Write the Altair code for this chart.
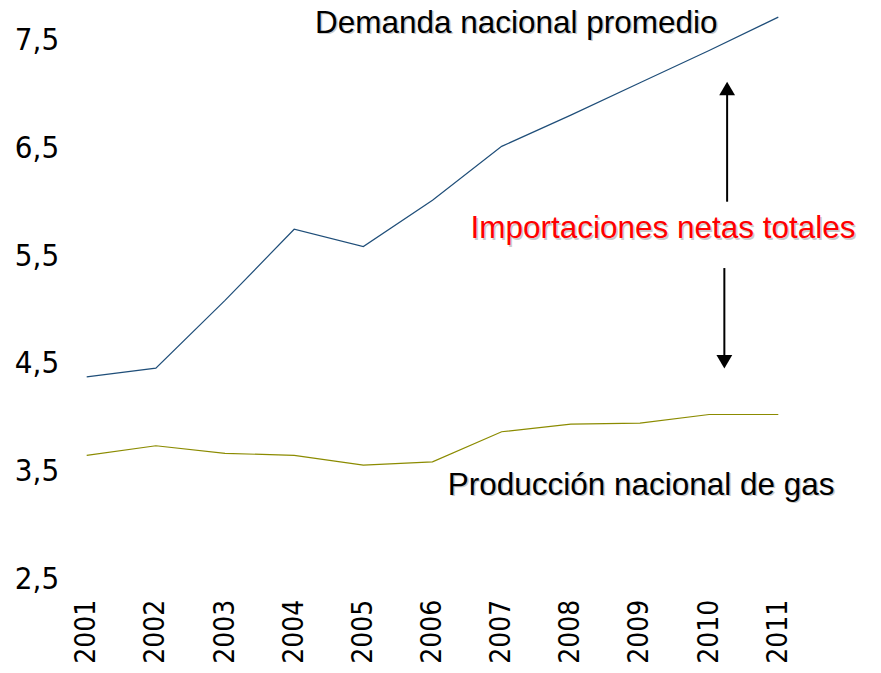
import altair as alt
import pandas as pd

years = [2001, 2002, 2003, 2004, 2005, 2006, 2007, 2008, 2009, 2010, 2011]
demanda = [4.38, 4.46, 5.09, 5.75, 5.59, 6.02, 6.52, 6.81, 7.11, 7.41, 7.72]
produccion = [3.65, 3.74, 3.67, 3.65, 3.56, 3.59, 3.87, 3.94, 3.95, 4.03, 4.03]
y_ticks = [2.5, 3.5, 4.5, 5.5, 6.5, 7.5]

series_names = ["Demanda nacional promedio", "Producción nacional de gas"]
series_colors = ["#1F4E79", "#8B8B00"]

# annotations (data units)
labels_text = ["Demanda nacional promedio", "Importaciones netas totales", "Producción nacional de gas"]
labels_x = [2004.30, 2006.55, 2006.22]
labels_y = [7.575, 5.669, 3.283]
labels_color = ["black", "red", "black"]

arrow_x = [2010.26, 2010.22]
arrow_from = [6.006, 5.39]
arrow_head = [7.057, 4.52]
arrow_shape = ["triangle-up", "triangle-down"]

rows = []
for name, vals in zip(series_names, [demanda, produccion]):
    for yr, v in zip(years, vals):
        rows.append({"serie": name, "year": yr, "value": v})
df = pd.DataFrame(rows)

ann = pd.DataFrame({"text": labels_text, "x": labels_x, "y": labels_y, "c": labels_color})
arr = pd.DataFrame({"x": arrow_x, "y": arrow_from, "y2": arrow_head, "shape": arrow_shape})

narrow = "DejaVu Sans Condensed, Liberation Sans Narrow, Arial Narrow, sans-serif"

xscale = alt.Scale(domain=[2001, 2011], nice=False, zero=False)
yscale = alt.Scale(domain=[2.5, 7.8], nice=False, zero=False)

lines = alt.Chart(df).mark_line(strokeWidth=1.2).encode(
    x=alt.X("year:Q", scale=xscale,
            axis=alt.Axis(values=years, format="d", labelAngle=270, title=None,
                          ticks=False, domain=False, grid=False,
                          labelFont=narrow, labelFontSize=28,
                          labelColor="black", labelPadding=20, labelFlush=False)),
    y=alt.Y("value:Q", scale=yscale,
            axis=alt.Axis(values=y_ticks, title=None, ticks=False, domain=False, grid=False,
                          labelExpr="replace(format(datum.value, '.1f'), '.', ',')",
                          labelFont=narrow, labelFontSize=31,
                          labelColor="black", labelPadding=28, labelAlign="right")),
    color=alt.Color("serie:N", scale=alt.Scale(domain=series_names, range=series_colors), legend=None),
)

shafts = alt.Chart(arr).mark_rule(color="black", strokeWidth=2).encode(
    x=alt.X("x:Q", scale=xscale), y=alt.Y("y:Q", scale=yscale), y2="y2:Q"
)
heads = alt.Chart(arr).mark_point(filled=True, color="black", opacity=1, size=250).encode(
    x=alt.X("x:Q", scale=xscale), y=alt.Y("y2:Q", scale=yscale),
    shape=alt.Shape("shape:N", scale=None, legend=None),
)

shadow = alt.Chart(ann).mark_text(align="left", baseline="alphabetic", font="Liberation Sans",
                                  fontSize=31.5, color="#999999", opacity=0.5, dx=1.5, dy=1.5).encode(
    x=alt.X("x:Q", scale=xscale), y=alt.Y("y:Q", scale=yscale), text="text:N"
)
texts = alt.Chart(ann).mark_text(align="left", baseline="alphabetic", font="Liberation Sans",
                                 fontSize=31.5).encode(
    x=alt.X("x:Q", scale=xscale), y=alt.Y("y:Q", scale=yscale), text="text:N",
    color=alt.Color("c:N", scale=None, legend=None),
)

chart = alt.layer(lines, shafts, heads, shadow, texts).properties(
    width=691.6, height=570.8,
    background="white",
    autosize=alt.AutoSizeParams(type="none"),
    padding={"left": 78.7, "top": 0.5, "right": 94, "bottom": 85},
).configure_view(strokeWidth=0)

chart.save("out.html", embed_options={"renderer": "svg", "actions": False})
